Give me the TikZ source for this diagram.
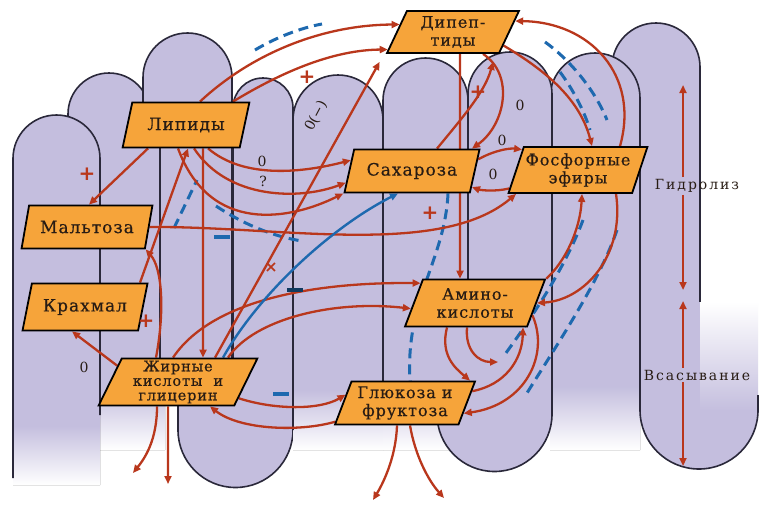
\documentclass[tikz,border=0pt]{standalone}
\usepackage{fontspec}
\setmainfont{DejaVu Serif}
\newfontfamily\nodefont[LetterSpace=6,FakeBold=0.5]{DejaVu Serif}
\newfontfamily\sidefont[LetterSpace=14]{DejaVu Serif}
\newfontfamily\symfont{DejaVu Sans}
\usetikzlibrary{shapes.geometric,arrows.meta,calc}
\definecolor{vil}{RGB}{196,190,222}
\definecolor{vout}{RGB}{42,40,58}
\definecolor{orng}{RGB}{246,164,58}
\definecolor{rb}{RGB}{185,55,28}
\definecolor{blu}{RGB}{30,105,175}
\definecolor{txt}{RGB}{40,28,20}
\pgfdeclareverticalshading{villfade}{100bp}{color(0bp)=(white); color(25bp)=(white); color(33bp)=(vil); color(100bp)=(vil)}
\pgfdeclarelayer{villi}
\pgfdeclarelayer{conn}
\pgfsetlayers{villi,conn,main}
\tikzset{
 vline/.style={draw=vout,line width=1.6pt},
 box/.style={trapezium, trapezium left angle=67, trapezium right angle=113, trapezium stretches=true,
   draw=black, line width=1.8pt, fill=orng, text=txt, align=center, inner sep=1pt,
   font=\nodefont\fontsize{16}{18}\selectfont},
 bigtext/.style={font=\nodefont\fontsize{17}{19}\selectfont},
 arr/.style={draw=rb, line width=2.3pt, -{Triangle[length=8pt,width=7pt]}},
 barr/.style={draw=blu, line width=2.4pt, -{Triangle[length=8pt,width=7pt]}},
 bdash/.style={draw=blu, line width=3pt, dash pattern=on 10pt off 6pt},
 plus/.style={text=rb, font=\symfont\bfseries\fontsize{20}{20}\selectfont, inner sep=0pt},
 zero/.style={text=txt, font=\fontsize{14}{14}\selectfont, inner sep=0pt},
 minusb/.style={fill=blu, minimum width=16pt, minimum height=4.5pt, inner sep=0pt},
 side/.style={text=txt, font=\sidefont\fontsize{14}{14}\selectfont, inner sep=2pt}
}
\begin{document}
\begin{tikzpicture}[x=1pt,y=-1pt]
\useasboundingbox (0,0) rectangle (759,506);
\begin{pgfonlayer}{villi}
\fill[white] (0,0) rectangle (759,506);
% B
\fill[shading=villfade] (68,450) -- (68,114) arc[start angle=180,end angle=360,radius=41] -- (150,140) -- (165,140) -- (165,450) -- cycle;
\draw[vline] (68,260) -- (68,114) arc[start angle=180,end angle=360,radius=41] -- (150,140);
% A
\fill[shading=villfade] (13,485) -- (13,158.5) arc[start angle=180,end angle=360,radius=43.5] -- (100,485) -- cycle;
\draw[vline] (13,478) -- (13,158.5) arc[start angle=180,end angle=360,radius=43.5] -- (100,415);
% D
\fill[vil] (233,108) arc[start angle=180,end angle=360,radius=30] -- (293,430) arc[start angle=0,end angle=180,radius=57.5] -- (178,405) -- (233,358) -- cycle;
\draw[vline] (233,358) -- (233,108) arc[start angle=180,end angle=360,radius=30] -- (293,430) arc[start angle=0,end angle=180,radius=57.5] -- (178,405);
% C
\fill[vil] (160,385) -- (160,147) -- (143,102) -- (143,77.5) arc[start angle=180,end angle=360,radius=44.5] -- (232,385) -- cycle;
\draw[vline] (160,370) -- (160,147) -- (143,102) -- (143,77.5) arc[start angle=180,end angle=360,radius=44.5] -- (232,370);
% E
\fill[shading=villfade] (293,450) -- (293,120) arc[start angle=180,end angle=360,radius=45] -- (383,450) -- cycle;
\draw[vline] (293,430) -- (293,120) arc[start angle=180,end angle=360,radius=45] -- (383,385);
% F
\fill[shading=villfade] (383,450) -- (383,100.5) arc[start angle=180,end angle=360,radius=42.5] -- (468,450) -- cycle;
\draw[vline] (383,385) -- (383,100.5) arc[start angle=180,end angle=360,radius=42.5] -- (468,300);
% I
\fill[vil] (612,303) -- (612,67) arc[start angle=180,end angle=360,radius=44] -- (700,303) -- cycle;
\draw[vline] (612,303) -- (612,67) arc[start angle=180,end angle=360,radius=44] -- (700,303);
% J
\fill[vil] (640,302) rectangle (700.5,411);
\shade[top color=white, bottom color=vil] (700,302) rectangle (758,411);
\fill[vil] (758,410) arc[start angle=0,end angle=180,radius=59] -- cycle;
% H
\fill[shading=villfade] (550,450) -- (550,98) arc[start angle=180,end angle=360,radius=45] -- (640,450) -- cycle;
\draw[vline] (550,300) -- (550,98) arc[start angle=180,end angle=360,radius=45] -- (640,410) arc[start angle=180,end angle=0,radius=59] -- (758,395);
% G
\fill[vil] (468,94) arc[start angle=180,end angle=360,radius=42] -- (552,414) arc[start angle=0,end angle=180,radius=57.5] -- (437,330) -- (468,300) -- cycle;
\draw[vline] (468,300) -- (468,94) arc[start angle=180,end angle=360,radius=42] -- (552,414) arc[start angle=0,end angle=180,radius=57.5] -- (437,400);
\end{pgfonlayer}

% nodes
\node[box, minimum width=133pt, minimum height=42pt] (dip) at (453,32) {Дипеп-\\тиды};
\node[box, bigtext, minimum width=128pt, minimum height=45pt] (lip) at (186,125) {Липиды};
\node[box, bigtext, minimum width=131pt, minimum height=43pt] (malt) at (87,227) {Мальтоза};
\node[box, bigtext, minimum width=125pt, minimum height=47pt] (krah) at (85,307) {Крахмал};
\node[box, minimum width=159pt, minimum height=47pt, font=\nodefont\fontsize{14.5}{14.5}\selectfont] (fat) at (178,382) {Жирные\\кислоты\ \ и\\глицерин};
\node[box, bigtext, minimum width=135pt, minimum height=43pt] (sah) at (412,171) {Сахароза};
\node[box, minimum width=139pt, minimum height=46pt] (fosf) at (578,170) {Фосфорные\\эфиры};
\node[box, minimum width=140pt, minimum height=47pt] (amino) at (475,303) {Амино-\\кислоты};
\node[box, minimum width=140pt, minimum height=43pt] (glu) at (405,403) {Глюкоза и\\фруктоза};

\node[side] (hyd) at (697,186) {Гидролиз};
\node[side] (abs) at (697,375) {Всасывание};
\coordinate (h1) at (683,85);
\coordinate (h2) at (683,290);
\coordinate (a1) at (683,301);
\coordinate (a2) at (683,466);

\coordinate (bdA) at (255,50);
\coordinate (bdB) at (322,24);
\coordinate (bdC) at (174,228);
\coordinate (bdD) at (197,180);
\coordinate (bdE) at (216,206);
\coordinate (bdF) at (302,241);
\coordinate (bdG) at (545,42);
\coordinate (bdH) at (607,120);
\coordinate (bdI) at (560,72);
\coordinate (bdJ) at (590,130);
\coordinate (bdK) at (583,220);
\coordinate (bdL) at (503,357);
\coordinate (bdM) at (617,230);
\coordinate (bdN) at (527,393);
\coordinate (am1) at (498,362);
\coordinate (o1) at (133,473);
\coordinate (o2) at (168,484);
\coordinate (o3) at (373,500);
\coordinate (o4) at (444,498);

\begin{pgfonlayer}{conn}
% blue dashed
\draw[bdash] (bdA) .. controls (275,38) and (300,28) .. (bdB);
\draw[bdash] (bdC) -- (bdD);
\draw[bdash] (bdE) .. controls (240,222) and (270,236) .. (bdF);
\draw[bdash] (bdG) .. controls (570,60) and (595,90) .. (bdH);
\draw[bdash] (bdI) .. controls (572,88) and (584,110) .. (bdJ);
\draw[bdash] (bdK) .. controls (570,255) and (545,300) .. (bdL);
\draw[bdash] (bdM) .. controls (600,280) and (560,340) .. (bdN);
\draw[bdash] ([xshift=36pt]sah.south) .. controls (445,260) and (405,300) .. ([xshift=5pt]glu.north);
% lipids
\draw[arr] ([xshift=-38pt]lip.south) -- ([xshift=2pt]malt.north);
\draw[arr] ([xshift=22pt]lip.south) .. controls (245,180) and (305,172) .. (sah.170);
\draw[arr] ([xshift=8pt]lip.south) .. controls (228,200) and (300,200) .. (sah.190);
\draw[arr] ([xshift=-8pt]lip.south) .. controls (210,235) and (290,220) .. (sah.bottom left corner);
\draw[arr] ([xshift=14pt]lip.north) .. controls (250,55) and (320,25) .. (dip.172);
\draw[arr] ([xshift=47pt]lip.north) .. controls (285,70) and (335,50) .. (dip.195);
\draw[arr] ([xshift=17pt]lip.south) -- ([xshift=25pt]fat.north);
% fatty acids
\draw[arr] ([xshift=37pt]fat.north) -- ([xshift=-6pt,yshift=-8pt]dip.bottom left corner);
\draw[arr] ([xshift=55pt]krah.north) -- ([xshift=2pt]lip.south);
\draw[arr] ([xshift=-22pt]fat.north) .. controls (165,310) and (162,268) .. (malt.bottom right corner);
\draw[arr] (fat.165) -- ([xshift=-13pt]krah.south);
\draw[arr] (malt.east) .. controls (280,226) and (440,258) .. ([xshift=-62pt]fosf.south);
\draw[arr] ([xshift=-5pt]fat.north) .. controls (215,295) and (330,282) .. (amino.160);
\draw[arr] ([xshift=50pt]fat.north) .. controls (255,318) and (335,300) .. (amino.185);
\draw[barr] ([xshift=45pt]fat.north) .. controls (258,295) and (330,228) .. ([xshift=-14pt]sah.south);
\draw[arr] (fat.-15) .. controls (275,410) and (320,410) .. (glu.172);
\draw[arr] (glu.195) .. controls (300,432) and (240,430) .. ([xshift=32pt]fat.south);
% right part
\draw[arr] ([xshift=25pt]sah.north) .. controls (462,118) and (485,92) .. ([xshift=40pt,yshift=-8pt]dip.south);
\draw[arr] ([xshift=30pt]dip.south) .. controls (515,75) and (505,125) .. ([xshift=60pt]sah.north);
\draw[arr] (dip.-15) .. controls (548,72) and (580,100) .. ([xshift=14pt]fosf.north);
\draw[arr] ([xshift=42pt]fosf.north) .. controls (640,75) and (590,22) .. (dip.10);
\draw[arr] (sah.10) .. controls (495,150) and (510,148) .. (fosf.160);
\draw[arr] (fosf.195) .. controls (495,192) and (480,190) .. (sah.345);
\draw[arr] (amino.top right corner) .. controls (565,262) and (580,230) .. ([xshift=4pt]fosf.south);
\draw[arr] ([xshift=38pt]fosf.south) .. controls (625,255) and (585,300) .. (amino.east);
\draw[arr] ([xshift=7pt]dip.south) -- ([xshift=-15pt]amino.north);
\draw[arr] ([xshift=-28pt]amino.south) .. controls (440,355) and (455,368) .. ([xshift=65pt]glu.north);
\draw[arr] ([xshift=-8pt]amino.south) .. controls (465,350) and (478,362) .. (am1);
\draw[arr] (glu.10) .. controls (505,385) and (522,360) .. ([xshift=48pt]amino.south);
\draw[arr] (amino.-12) .. controls (550,355) and (525,405) .. (glu.-10);
% out
\draw[arr] ([xshift=-21pt]fat.south) .. controls (157,440) and (145,458) .. (o1);
\draw[arr] ([xshift=-10pt]fat.south) -- (o2);
\draw[arr] ([xshift=-8pt]glu.south) .. controls (396,455) and (385,480) .. (o3);
\draw[arr] ([xshift=5pt]glu.south) .. controls (415,455) and (428,480) .. (o4);
% side arrows
\draw[arr] (hyd.north -| h1) -- (h1);
\draw[arr] (hyd.south -| h2) -- (h2);
\draw[arr] (abs.north -| a1) -- (a1);
\draw[arr] (abs.south -| a2) -- (a2);
\end{pgfonlayer}

% marks
\node[plus] (p1) at (87,174) {+};
\node[plus] (p2) at (146,321) {+};
\node[plus] (p3) at (307,77) {+};
\node[plus] (p4) at (478,92) {+};
\node[plus] (p5) at (430,213) {+};
\node[plus, font=\symfont\bfseries\fontsize{16}{16}\selectfont] (x1) at (271,268) {×};
\node[minusb, fill=blu!55!black] (mb1) at (295,290) {};
\node[minusb] (mb2) at (281,394) {};
\node[minusb] (mb0) at (222,237) {};
\node[zero] (z1) at (84,367) {0};
\node[zero] (z2) at (262,161) {0};
\node[zero] (q1) at (263,181) {?};
\node[zero] (z3) at (520,105) {0};
\node[zero] (z4) at (502,140) {0};
\node[zero] (z5) at (493,174) {0};
\node[zero, rotate=62] (z6) at (316,116) {0(−)};
\end{tikzpicture}
\end{document}
